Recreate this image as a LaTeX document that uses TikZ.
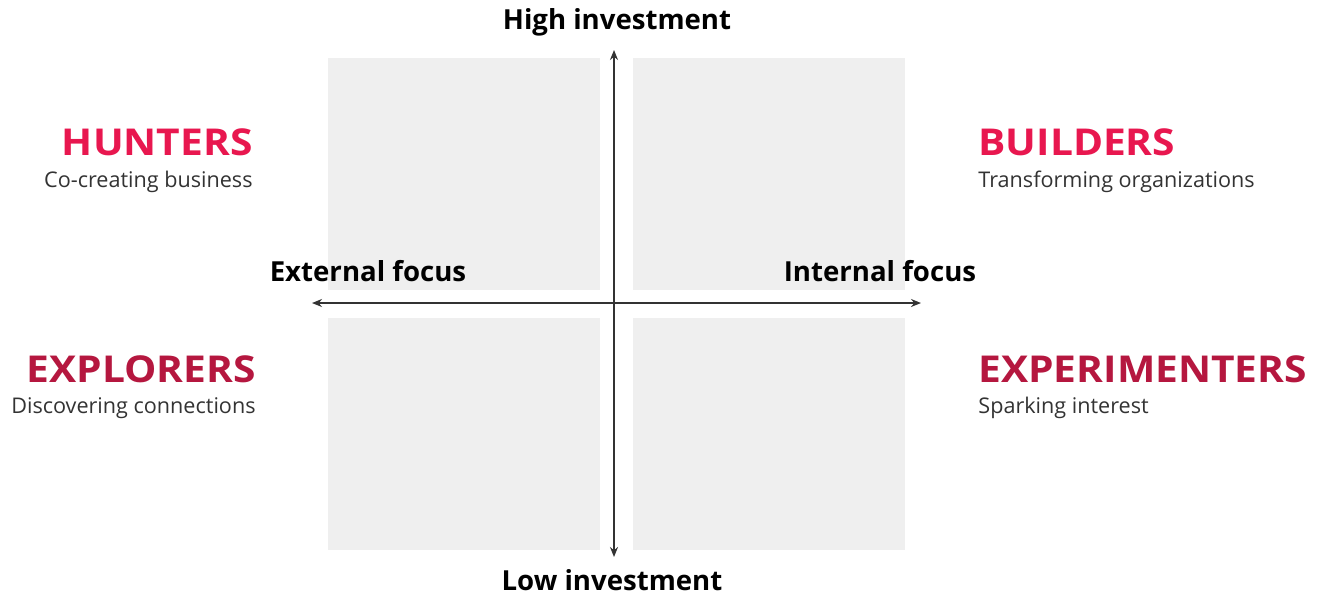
\documentclass[tikz,border=0pt]{standalone}
\usepackage{fontspec}
\setmainfont{Open Sans}
\newfontfamily\titlefont[FakeStretch=1.1]{Open Sans}
\definecolor{brightred}{HTML}{E8174F}
\definecolor{darkred}{HTML}{B5173F}
\definecolor{quad}{HTML}{EFEFEF}
\definecolor{subgray}{HTML}{333333}
\usetikzlibrary{arrows.meta}
\begin{document}
\begin{tikzpicture}[x=0.5pt,y=-0.5pt,
  quadbox/.style={fill=quad,draw=none},
  axislabel/.style={font=\bfseries\fontsize{13.8}{15}\selectfont,inner sep=0pt},
  titleA/.style={font=\titlefont\bfseries\fontsize{18.5}{20}\selectfont,text=brightred,inner sep=0pt},
  titleB/.style={font=\titlefont\bfseries\fontsize{18.5}{20}\selectfont,text=darkred,inner sep=0pt},
  subtitle/.style={font=\fontsize{10.8}{12}\selectfont,text=subgray,inner sep=0pt},
  axisarrow/.style={draw=black!80,line width=0.8pt,-{Stealth[length=5pt,width=4pt]}}
]
\useasboundingbox (0,0) rectangle (1322,596);
\fill[white] (0,0) rectangle (1322,596);
% quadrants
\fill[quadbox] (328,58) rectangle (600,290);
\fill[quadbox] (633,58) rectangle (905,290);
\fill[quadbox] (328,318) rectangle (600,550);
\fill[quadbox] (633,318) rectangle (905,550);
% axes
\coordinate (top) at (614,50);
\coordinate (bot) at (614,557);
\coordinate (left) at (312,303);
\coordinate (right) at (921,303);
\coordinate (center) at (614,303);
\draw[axisarrow] (center) -- (top);
\draw[axisarrow] (center) -- (bot);
\draw[axisarrow] (center) -- (left);
\draw[axisarrow] (center) -- (right);
% axis labels
\node[axislabel,anchor=base] (high) at (617,29) {High investment};
\node[axislabel,anchor=base] (low) at (612,590) {Low investment};
\node[axislabel,anchor=base] (ext) at (368,281) {External focus};
\node[axislabel,anchor=base] (int) at (880,281) {Internal focus};
% quadrant titles
\node[titleA,anchor=base east] (hunters) at (253,155) {HUNTERS};
\node[subtitle,anchor=base east] (huntsub) at (253,187) {Co-creating business};
\node[titleA,anchor=base west] (builders) at (978,155) {BUILDERS};
\node[subtitle,anchor=base west] (buildsub) at (978,187) {Transforming organizations};
\node[titleB,anchor=base east] (explorers) at (256,382) {EXPLORERS};
\node[subtitle,anchor=base east] (explsub) at (256,413) {Discovering connections};
\node[titleB,anchor=base west] (experimenters) at (978,382) {EXPERIMENTERS};
\node[subtitle,anchor=base west] (expsub) at (978,413) {Sparking interest};
\end{tikzpicture}
\end{document}
